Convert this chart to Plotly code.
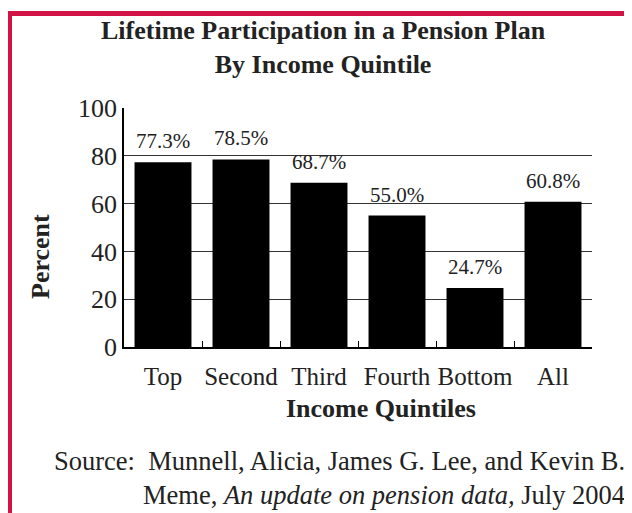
import plotly.graph_objects as go

categories = ["Top", "Second", "Third", "Fourth", "Bottom", "All"]
values = [77.3, 78.5, 68.7, 55.0, 24.7, 60.8]
value_labels = ["77.3%", "78.5%", "68.7%", "55.0%", "24.7%", "60.8%"]
y_ticks = [0, 20, 40, 60, 80, 100]

FONT = "Liberation Serif, Times New Roman, serif"
OFF = 8  # page body margin
W, H = 632 - OFF, 513 - OFF
# plot area in page coords: x 124..592, y 108..347
L, R, T, B = 124 - OFF, W - (592 - OFF), 108 - OFF, H - (347 - OFF)
PW, PH = W - L - R, H - T - B

def px_x(x):  # page px -> paper
    return (x - OFF - L) / PW

def px_y(y):
    return (H - B - (y - OFF)) / PH

fig = go.Figure()
fig.add_trace(go.Bar(x=categories, y=values, marker=dict(color="black", line=dict(width=0)),
                     showlegend=False, hoverinfo="skip"))

for c, v, lab in zip(categories, values, value_labels):
    fig.add_annotation(x=c, y=v, text=lab, showarrow=False, xanchor="center", yanchor="bottom", yshift=7,
                       font=dict(family=FONT, size=21, color="#222"))

fig.add_annotation(xref="paper", yref="paper", x=px_x(323), y=px_y(47), xanchor="center", yanchor="middle",
                   text="<b>Lifetime Participation in a Pension Plan<br>By Income Quintile</b>",
                   showarrow=False, font=dict(family=FONT, size=26, color="#222"), align="center")

fig.add_annotation(xref="paper", yref="paper", x=px_x(40), y=px_y(257), xanchor="center", yanchor="middle",
                   textangle=-90,
                   text="<b>Percent</b>", showarrow=False, font=dict(family=FONT, size=26, color="#222"))

fig.add_annotation(xref="paper", yref="paper", x=px_x(381), y=px_y(408), xanchor="center", yanchor="middle",
                   text="<b>Income Quintiles</b>", showarrow=False, font=dict(family=FONT, size=26, color="#222"))

fig.add_annotation(xref="paper", yref="paper", x=px_x(627), y=px_y(478), xanchor="right", yanchor="middle",
                   align="right",
                   text="Source:  Munnell, Alicia, James G. Lee, and Kevin B.<br>Meme, <i>An update on pension data,</i> July 2004",
                   showarrow=False, font=dict(family=FONT, size=26.5, color="#222"))

fig.add_shape(type="rect", xref="paper", yref="paper", x0=px_x(9.5), x1=px_x(700), y0=px_y(600), y1=px_y(13.5),
              line=dict(color="#d21346", width=5), fillcolor="rgba(0,0,0,0)")

fig.update_layout(
    width=W, height=H, margin=dict(l=L, r=R, t=T, b=B),
    paper_bgcolor="white", plot_bgcolor="white", bargap=0.27,
    font=dict(family=FONT, color="#222"),
)
fig.update_xaxes(showline=True, linecolor="black", linewidth=1.5, ticks="inside", tickson="boundaries",
                 ticklen=6, tickcolor="black", tickangle=0, ticklabelstandoff=6,
                 tickfont=dict(family=FONT, size=25, color="#222"), showgrid=False)
fig.update_yaxes(range=[0, 100], tickvals=y_ticks, showline=True, linecolor="black", linewidth=1.5,
                 showgrid=True, gridcolor="#333", gridwidth=1, zeroline=False, ticks="",
                 tickfont=dict(family=FONT, size=26, color="#222"))

fig.write_html("out.html")
